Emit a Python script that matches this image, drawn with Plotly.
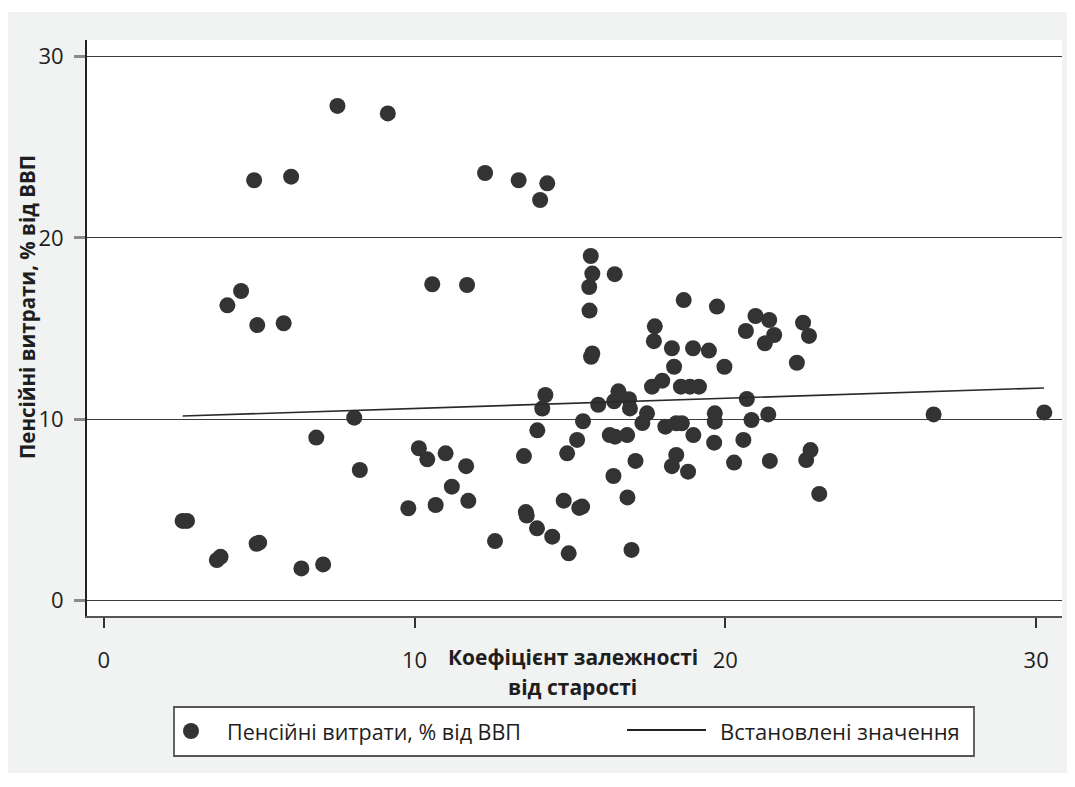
import plotly.graph_objects as go

# ---- data ----
age_dependency = [
    7.52, 9.14, 4.84, 6.03, 12.27, 13.35, 14.27, 14.04, 4.42, 3.98,
    4.94, 5.79, 10.57, 11.69, 15.67, 15.72, 16.44, 15.62, 15.63, 18.66,
    19.73, 20.97, 21.41, 20.66, 22.50, 22.69, 21.57, 21.27, 17.73, 17.70,
    15.72, 15.68, 18.28, 18.96, 19.47, 18.35, 19.97, 22.30, 17.64, 17.97,
    18.57, 18.86, 19.15, 14.21, 14.11, 13.95, 15.91, 15.42, 15.23, 14.91,
    16.56, 16.42, 16.90, 16.93, 17.48, 17.33, 18.07, 18.42, 18.60, 18.97,
    19.66, 19.66, 19.64, 20.58, 20.84, 21.38, 20.69, 26.70, 30.26, 16.28,
    16.45, 16.84, 17.11, 16.40, 18.42, 18.28, 18.80, 20.28, 21.43, 22.74,
    22.60, 23.02, 14.80, 15.39, 16.85, 13.94, 14.43, 14.96, 16.98, 10.14,
    10.41, 11.00, 11.66, 11.20, 9.80, 10.68, 11.73, 12.59, 13.52, 13.58,
    13.61, 2.54, 2.68, 3.64, 3.76, 4.92, 5.00, 6.36, 7.06, 6.84,
    8.06, 8.24, 15.30,
]
pension_spending = [
    27.28, 26.87, 23.18, 23.38, 23.58, 23.18, 23.01, 22.09, 17.07, 16.28,
    15.19, 15.29, 17.44, 17.40, 19.00, 18.03, 18.00, 17.29, 15.99, 16.57,
    16.21, 15.69, 15.47, 14.86, 15.32, 14.59, 14.64, 14.18, 15.12, 14.30,
    13.62, 13.44, 13.91, 13.91, 13.78, 12.89, 12.89, 13.11, 11.79, 12.12,
    11.79, 11.79, 11.79, 11.33, 10.58, 9.38, 10.79, 9.88, 8.85, 8.11,
    11.53, 10.98, 11.10, 10.59, 10.32, 9.78, 9.58, 9.77, 9.77, 9.12,
    10.32, 9.86, 8.70, 8.85, 9.95, 10.26, 11.11, 10.26, 10.37, 9.12,
    9.03, 9.12, 7.69, 6.86, 8.02, 7.40, 7.10, 7.60, 7.69, 8.29,
    7.74, 5.87, 5.50, 5.17, 5.68, 3.97, 3.51, 2.59, 2.78, 8.39,
    7.78, 8.11, 7.40, 6.27, 5.08, 5.26, 5.49, 3.27, 7.96, 4.87,
    4.68, 4.38, 4.38, 2.22, 2.40, 3.12, 3.18, 1.76, 1.98, 8.98,
    10.08, 7.19, 5.10,
]
fit_x = [2.54, 30.25]
fit_y = [10.17, 11.72]

x_ticks = [0, 10, 20, 30]
y_ticks = [0, 10, 20, 30]

y_title = "Пенсійні витрати, % від ВВП"
x_title_1 = "Коефіцієнт залежності"
x_title_2 = "від старості"
legend_scatter = "Пенсійні витрати, % від ВВП"
legend_line = "Встановлені значення"

# ---- layout geometry (pixels) ----
OFF = 8  # page body margin of the html page
W, H = 1075 - OFF, 787 - OFF
L, R, T, B = 79, 13, 32, 171
PW, PH = W - L - R, H - T - B


def px(xs):
    """screen x pixel -> paper fraction"""
    return (xs - OFF - L) / PW


def py(ys):
    """screen y pixel -> paper fraction"""
    return (H - B - (ys - OFF)) / PH


FONT = "Open Sans"
DARK = "#333333"
TXT = "#1e1e1e"

fig = go.Figure()
fig.add_trace(go.Scatter(
    x=age_dependency, y=pension_spending, mode="markers",
    marker=dict(size=16, color=DARK, line=dict(width=0)),
    name=legend_scatter, showlegend=False,
))
fig.add_trace(go.Scatter(
    x=fit_x, y=fit_y, mode="lines",
    line=dict(color="#2a2a2a", width=1.6),
    name=legend_line, showlegend=False,
))

shapes = [
    # grey panel behind everything
    dict(type="rect", xref="paper", yref="paper", layer="below",
         x0=px(7), x1=px(1068), y0=py(773), y1=py(12),
         fillcolor="#f1f2f2", line=dict(width=0)),
    # white plotting area
    dict(type="rect", xref="paper", yref="paper", layer="below",
         x0=0, x1=1, y0=0, y1=1,
         fillcolor="white", line=dict(width=0)),
    # legend box
    dict(type="rect", xref="paper", yref="paper",
         x0=px(174), x1=px(974), y0=py(756), y1=py(707),
         fillcolor="white", line=dict(color="#555555", width=1.8)),
    dict(type="circle", xref="paper", yref="paper",
         x0=px(183), x1=px(199), y0=py(739), y1=py(723),
         fillcolor=DARK, line=dict(width=0)),
    dict(type="line", xref="paper", yref="paper",
         x0=px(627), x1=px(706), y0=py(730), y1=py(730),
         line=dict(color="#222222", width=2)),
]

annotations = [
    dict(text=f"<b>{y_title}</b>", xref="paper", yref="paper",
         x=px(27), y=py(307), textangle=-90, showarrow=False,
         xanchor="center", yanchor="middle",
         font=dict(family=FONT, size=20.5, color=TXT)),
    dict(text=f"<b>{x_title_1}</b>", xref="paper", yref="paper",
         x=px(573), y=py(657), showarrow=False,
         xanchor="center", yanchor="middle",
         font=dict(family=FONT, size=21, color=TXT)),
    dict(text=f"<b>{x_title_2}</b>", xref="paper", yref="paper",
         x=px(572), y=py(687), showarrow=False,
         xanchor="center", yanchor="middle",
         font=dict(family=FONT, size=21, color=TXT)),
    dict(text=legend_scatter, xref="paper", yref="paper",
         x=px(225), y=py(731), showarrow=False,
         xanchor="left", yanchor="middle",
         font=dict(family=FONT, size=21.5, color=TXT)),
    dict(text=legend_line, xref="paper", yref="paper",
         x=px(718), y=py(731), showarrow=False,
         xanchor="left", yanchor="middle",
         font=dict(family=FONT, size=22, color=TXT)),
]

fig.update_layout(
    width=W, height=H,
    margin=dict(l=L, r=R, t=T, b=B, pad=0),
    paper_bgcolor="white", plot_bgcolor="white",
    showlegend=False,
    shapes=shapes, annotations=annotations,
    font=dict(family=FONT, size=22, color=TXT),
)
fig.update_xaxes(
    range=[-0.537, 30.83], tickvals=x_ticks, ticktext=[str(v) for v in x_ticks],
    showgrid=False, zeroline=False,
    showline=True, linecolor="#555555", linewidth=2,
    ticks="outside", ticklen=10, tickwidth=1.5, tickcolor="#333333",
    ticklabelstandoff=14,
    tickfont=dict(family=FONT, size=22, color=TXT),
)
fig.update_yaxes(
    range=[-0.866, 30.92], tickvals=y_ticks, ticktext=[str(v) for v in y_ticks],
    showgrid=True, gridcolor="#3a3a3a", gridwidth=1.4, zeroline=False,
    showline=True, linecolor="#222222", linewidth=2,
    ticks="outside", ticklen=11, tickwidth=3, tickcolor="#8a8a8a",
    ticklabelstandoff=6,
    tickfont=dict(family=FONT, size=22, color=TXT),
)

fig.write_html("out.html")
